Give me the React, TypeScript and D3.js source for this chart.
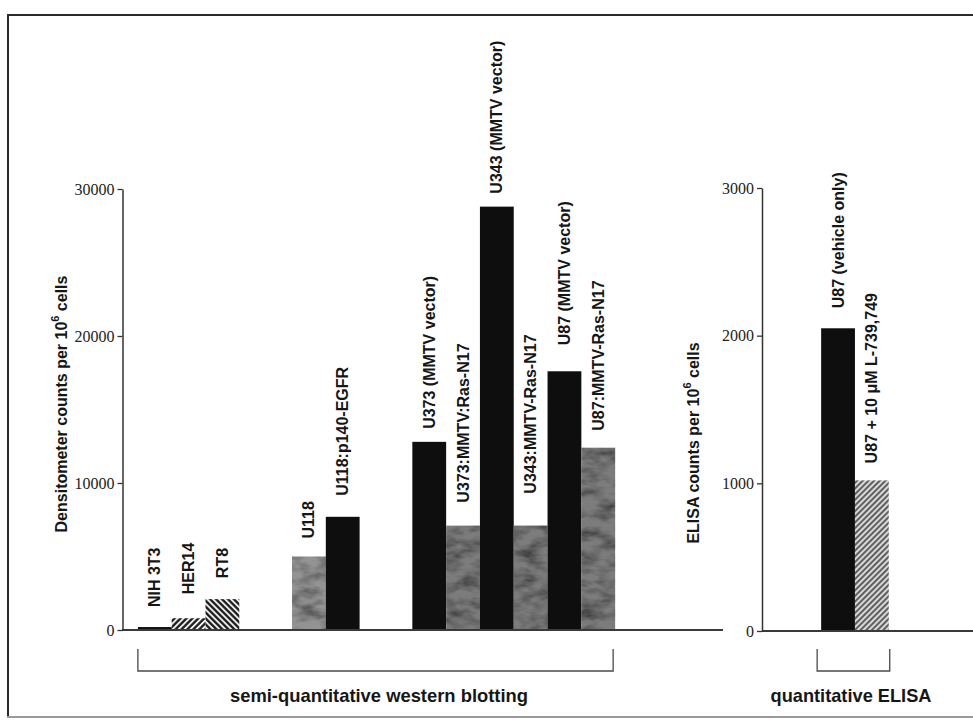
import * as d3 from "d3";
import { useEffect, useRef } from "react";

const width = 973;
const height = 722;

// western blot panel
const blotLabels = [
  "NIH 3T3",
  "HER14",
  "RT8",
  "U118",
  "U118:p140-EGFR",
  "U373 (MMTV vector)",
  "U373:MMTV:Ras-N17",
  "U343 (MMTV vector)",
  "U343:MMTV-Ras-N17",
  "U87 (MMTV vector)",
  "U87:MMTV-Ras-N17",
];
const blotValues = [200, 800, 2100, 5000, 7700, 12800, 7100, 28800, 7100, 17600, 12400];
const blotGroups = [0, 0, 0, 1, 1, 2, 2, 2, 2, 2, 2];
const blotFills = [
  "black",
  "hatchUp",
  "hatchDown",
  "grayLight",
  "black",
  "black",
  "gray",
  "black",
  "gray",
  "black",
  "gray",
];
const blotTicks = [0, 10000, 20000, 30000];

// ELISA panel
const elisaLabels = ["U87 (vehicle only)", "U87 + 10 \u03bcM L-739,749"];
const elisaValues = [2050, 1020];
const elisaFills = ["black", "hatchLight"];
const elisaTicks = [0, 1000, 2000, 3000];

// how far each label sits above its bar (px)
const blotLabelGap = [20, 24, 21, 18, 21, 13, 23, 13, 32, 26, 17];
const elisaLabelGap = [20, 17];

const sans = "'Liberation Sans', Arial, Helvetica, sans-serif";
const serif = "'Liberation Serif', 'Times New Roman', serif";
const ink = "#161616";

export default function App() {
  const svgRef = useRef<SVGSVGElement | null>(null);

  useEffect(() => {
    if (!svgRef.current) return;
    draw(svgRef.current);
  }, []);

  return (
    <svg
      ref={svgRef}
      width={width}
      height={height}
      style={{ position: "absolute", left: 0, top: 0, background: "#fff" }}
    />
  );
}

function draw(svgElement: SVGSVGElement) {
  const svg = d3.select(svgElement);
  svg.selectAll("*").remove();

  const defs = svg.append("defs");

  function hatch(id: string, angle: number, size: number, stroke: string, sw: number, bg: string) {
    const p = defs
      .append("pattern")
      .attr("id", id)
      .attr("patternUnits", "userSpaceOnUse")
      .attr("width", size)
      .attr("height", size)
      .attr("patternTransform", `rotate(${angle})`);
    p.append("rect").attr("width", size).attr("height", size).attr("fill", bg);
    p.append("line")
      .attr("x1", size / 2)
      .attr("x2", size / 2)
      .attr("y1", 0)
      .attr("y2", size)
      .attr("stroke", stroke)
      .attr("stroke-width", sw);
  }
  hatch("hatchUp", 45, 4.2, "#1a1a1a", 2.3, "#f4f4f4");
  hatch("hatchDown", -45, 4.2, "#1a1a1a", 2.3, "#f4f4f4");
  hatch("hatchLight", 45, 4, "#4a4a4a", 1.7, "#d8d8d8");

  // mottled grey like the scanned print
  const f = defs
    .append("filter")
    .attr("id", "mottle")
    .attr("x", 0)
    .attr("y", 0)
    .attr("width", 1)
    .attr("height", 1);
  f.append("feTurbulence")
    .attr("type", "fractalNoise")
    .attr("baseFrequency", "0.05 0.1")
    .attr("numOctaves", 3)
    .attr("seed", 7)
    .attr("result", "noise");
  f.append("feColorMatrix")
    .attr("in", "noise")
    .attr("type", "matrix")
    .attr("values", "0 0 0 0 0  0 0 0 0 0  0 0 0 0 0  1.5 0 0 0 -0.55")
    .attr("result", "shade");
  f.append("feComposite")
    .attr("in", "shade")
    .attr("in2", "SourceGraphic")
    .attr("operator", "in")
    .attr("result", "clip");
  const merge = f.append("feMerge");
  merge.append("feMergeNode").attr("in", "SourceGraphic");
  merge.append("feMergeNode").attr("in", "clip");

  const fillFor = (kind: string) => {
    if (kind === "black") return "#0e0e0e";
    if (kind === "gray") return "#7c7c7c";
    if (kind === "grayLight") return "#939393";
    return `url(#${kind})`;
  };

  // frame
  svg.append("line").attr("x1", 7).attr("x2", width).attr("y1", 15).attr("y2", 15)
    .attr("stroke", "#2a2a2a").attr("stroke-width", 2);
  svg.append("line").attr("x1", 8).attr("x2", 8).attr("y1", 14).attr("y2", 718)
    .attr("stroke", "#2a2a2a").attr("stroke-width", 2);
  svg.append("line").attr("x1", 7).attr("x2", width).attr("y1", 717).attr("y2", 717)
    .attr("stroke", "#9a9a9a").attr("stroke-width", 2);

  // ---------- left panel ----------
  const yBlot = d3.scaleLinear().domain([0, 30000]).range([630, 189]);
  const slotWidth = 33.8;
  const xBlot = d3.scaleLinear().domain([0, 1]).range([122, 122 + slotWidth]);
  const slotOf = (i: number) => 0.47 + i + 1.56 * blotGroups[i];

  const blotData = blotLabels.map((label, i) => ({
    label,
    value: blotValues[i],
    fill: blotFills[i],
    gap: blotLabelGap[i],
    x0: xBlot(slotOf(i)),
    x1: xBlot(slotOf(i) + 1),
  }));

  drawBars(svg, blotData, yBlot, fillFor);

  svg.append("line")
    .attr("x1", 122).attr("x2", 723).attr("y1", yBlot(0)).attr("y2", yBlot(0))
    .attr("stroke", "#3a3a3a").attr("stroke-width", 1.8);

  const axisL = svg.append("g").attr("transform", "translate(122.5,0)");
  axisL.call(
    d3.axisLeft(yBlot).tickValues(blotTicks).tickSize(5).tickSizeOuter(0).tickPadding(3)
      .tickFormat(d3.format("d"))
  );
  styleAxis(axisL);

  svg.append("text")
    .attr("transform", `translate(61, 404) rotate(-90)`)
    .attr("text-anchor", "middle")
    .attr("dominant-baseline", "central")
    .attr("fill", ink)
    .style("font-family", sans)
    .style("font-weight", "700")
    .style("font-size", "16px")
    .call((t) => {
      t.append("tspan").text("Densitometer counts per 10");
      t.append("tspan").attr("dy", -6).style("font-size", "11px").text("6");
      t.append("tspan").attr("dy", 6).text(" cells");
    });

  bracket(svg, blotData[0].x0, blotData[blotData.length - 1].x1 - 2);
  svg.append("text")
    .attr("x", 379).attr("y", 702)
    .attr("text-anchor", "middle")
    .attr("textLength", 298).attr("lengthAdjust", "spacingAndGlyphs")
    .attr("fill", ink)
    .style("font-family", sans).style("font-weight", "700").style("font-size", "19px")
    .text("semi-quantitative western blotting");

  // ---------- right panel ----------
  const yElisa = d3.scaleLinear().domain([0, 3000]).range([631, 188]);
  const xElisa = d3.scaleLinear().domain([0, 1]).range([762, 762 + slotWidth]);
  const elisaData = elisaLabels.map((label, i) => ({
    label,
    value: elisaValues[i],
    fill: elisaFills[i],
    gap: elisaLabelGap[i],
    x0: xElisa(1.75 + i),
    x1: xElisa(2.75 + i),
  }));

  drawBars(svg, elisaData, yElisa, fillFor);

  svg.append("line")
    .attr("x1", 762).attr("x2", width).attr("y1", yElisa(0)).attr("y2", yElisa(0))
    .attr("stroke", "#3a3a3a").attr("stroke-width", 1.8);

  const axisR = svg.append("g").attr("transform", "translate(762,0)");
  axisR.call(
    d3.axisLeft(yElisa).tickValues(elisaTicks).tickSize(5).tickSizeOuter(0).tickPadding(3)
      .tickFormat(d3.format("d"))
  );
  styleAxis(axisR);

  svg.append("text")
    .attr("transform", `translate(693, 443) rotate(-90)`)
    .attr("text-anchor", "middle")
    .attr("dominant-baseline", "central")
    .attr("fill", ink)
    .style("font-family", sans)
    .style("font-weight", "700")
    .style("font-size", "16px")
    .call((t) => {
      t.append("tspan").text("ELISA counts per 10");
      t.append("tspan").attr("dy", -6).style("font-size", "11px").text("6");
      t.append("tspan").attr("dy", 6).text(" cells");
    });

  bracket(svg, elisaData[0].x0 - 4, elisaData[1].x1 + 1);
  svg.append("text")
    .attr("x", 851).attr("y", 702)
    .attr("text-anchor", "middle")
    .attr("textLength", 161).attr("lengthAdjust", "spacingAndGlyphs")
    .attr("fill", ink)
    .style("font-family", sans).style("font-weight", "700").style("font-size", "19px")
    .text("quantitative ELISA");
}

type Bar = { label: string; value: number; fill: string; gap: number; x0: number; x1: number };

function drawBars(svg: any, data: Bar[], y: d3.ScaleLinear<number, number>, fillFor: (k: string) => string) {
  const g = svg.append("g");
  g.selectAll("rect")
    .data(data)
    .join("rect")
    .attr("x", (d: Bar) => d.x0)
    .attr("y", (d: Bar) => y(d.value))
    .attr("width", (d: Bar) => d.x1 - d.x0)
    .attr("height", (d: Bar) => y(0) - y(d.value))
    .attr("fill", (d: Bar) => fillFor(d.fill))
    .attr("filter", (d: Bar) => (d.fill.startsWith("gray") ? "url(#mottle)" : null));

  g.selectAll("text")
    .data(data)
    .join("text")
    .attr(
      "transform",
      (d: Bar) => `translate(${(d.x0 + d.x1) / 2}, ${y(d.value) - d.gap}) rotate(-90)`
    )
    .attr("text-anchor", "start")
    .attr("dominant-baseline", "central")
    .attr("fill", ink)
    .style("font-family", sans)
    .style("font-weight", "700")
    .style("font-size", "16px")
    .text((d: Bar) => d.label);
}

function styleAxis(axis: any) {
  axis.select(".domain").attr("stroke", "#333").attr("stroke-width", 1.5);
  axis.selectAll(".tick line").attr("stroke", "#333").attr("stroke-width", 1.3);
  axis
    .selectAll(".tick text")
    .attr("fill", "#222")
    .style("font-family", serif)
    .style("font-size", "16px");
}

function bracket(svg: any, x0: number, x1: number) {
  const path = d3.path();
  path.moveTo(x0, 649);
  path.lineTo(x0, 671);
  path.lineTo(x1, 671);
  path.lineTo(x1, 649);
  svg.append("path")
    .attr("d", path.toString())
    .attr("fill", "none")
    .attr("stroke", "#4a4a4a")
    .attr("stroke-width", 1.3);
}
